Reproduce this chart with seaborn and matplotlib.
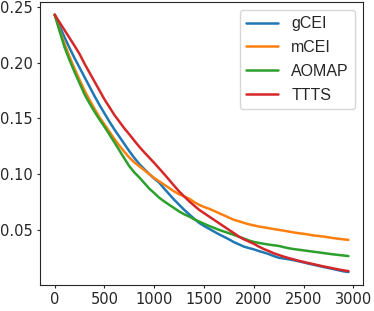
import matplotlib
matplotlib.use("Agg")
import matplotlib.pyplot as plt
import seaborn as sns
import pandas as pd

steps = list(range(0, 3000, 50))

gcei = [0.243, 0.2325, 0.2225, 0.213, 0.204, 0.1955, 0.187, 0.1785, 0.170, 0.162,
        0.1545, 0.147, 0.140, 0.1335, 0.127, 0.1205, 0.1145, 0.109, 0.1045, 0.100,
        0.096, 0.0923, 0.087, 0.082, 0.077, 0.0725, 0.068, 0.064, 0.060, 0.0563,
        0.0535, 0.051, 0.0485, 0.046, 0.0438, 0.0415, 0.039, 0.037, 0.035, 0.0337,
        0.0325, 0.031, 0.0297, 0.0283, 0.0265, 0.025, 0.0243, 0.0236, 0.0228, 0.0218,
        0.0208, 0.0197, 0.0187, 0.0177, 0.0167, 0.0158, 0.0148, 0.0138, 0.0128, 0.0122]
mcei = [0.243, 0.229, 0.2165, 0.205, 0.1945, 0.1845, 0.175, 0.1665, 0.1585, 0.151,
        0.1445, 0.138, 0.1315, 0.1255, 0.120, 0.1148, 0.1105, 0.107, 0.1035, 0.100,
        0.0965, 0.0935, 0.0905, 0.0875, 0.0845, 0.082, 0.080, 0.078, 0.075, 0.0725,
        0.0705, 0.069, 0.067, 0.065, 0.063, 0.061, 0.059, 0.0577, 0.0563, 0.055,
        0.054, 0.053, 0.0523, 0.0515, 0.0507, 0.050, 0.0493, 0.0485, 0.0477, 0.047,
        0.0465, 0.0458, 0.045, 0.0445, 0.044, 0.0433, 0.0426, 0.042, 0.0415, 0.041]
aomap = [0.243, 0.228, 0.2135, 0.202, 0.1915, 0.1815, 0.1715, 0.1635, 0.156, 0.149,
         0.1425, 0.1355, 0.1285, 0.1212, 0.114, 0.107, 0.1015, 0.097, 0.092, 0.087,
         0.083, 0.0788, 0.0755, 0.0725, 0.0695, 0.0665, 0.064, 0.062, 0.0595, 0.0575,
         0.0555, 0.0535, 0.0518, 0.050, 0.0485, 0.047, 0.0455, 0.0438, 0.0422, 0.0405,
         0.0392, 0.0383, 0.0375, 0.0368, 0.0362, 0.0356, 0.0345, 0.0335, 0.0328, 0.0322,
         0.0316, 0.031, 0.0304, 0.0298, 0.0292, 0.0286, 0.028, 0.0275, 0.027, 0.0265]
ttts = [0.243, 0.236, 0.229, 0.222, 0.215, 0.2077, 0.199, 0.191, 0.183, 0.175,
        0.167, 0.160, 0.153, 0.147, 0.141, 0.1356, 0.130, 0.1245, 0.1195, 0.1148,
        0.110, 0.105, 0.100, 0.0948, 0.0895, 0.0845, 0.080, 0.0757, 0.0718, 0.068,
        0.065, 0.062, 0.059, 0.056, 0.053, 0.050, 0.047, 0.044, 0.0415, 0.0395,
        0.0375, 0.035, 0.0328, 0.031, 0.029, 0.0275, 0.026, 0.0247, 0.0235, 0.0223,
        0.0212, 0.0202, 0.0192, 0.0182, 0.0172, 0.0163, 0.0154, 0.0145, 0.0137, 0.013]

methods = ["gCEI", "mCEI", "AOMAP", "TTTS"]
series = [gcei, mcei, aomap, ttts]

rows = []
for name, vals in zip(methods, series):
    for s, v in zip(steps, vals):
        rows.append({"step": s, "value": v, "method": name})
df = pd.DataFrame(rows)

sns.set_style("ticks")
plt.rcParams["font.family"] = ["DejaVu Sans"]

fig = plt.figure(figsize=(3.74, 3.11), dpi=100)
ax = fig.add_axes([0.107, 0.084, 0.864, 0.910])
palette = sns.color_palette("tab10", 4)
sns.lineplot(data=df, x="step", y="value", hue="method", hue_order=methods,
             palette=palette, linewidth=1.8, ax=ax)
ax.set_xlabel("")
ax.set_ylabel("")
ax.set_xticks([0, 500, 1000, 1500, 2000, 2500, 3000])
ax.set_yticks([0.05, 0.10, 0.15, 0.20, 0.25])
ax.tick_params(labelsize=10.5, length=2.5, pad=2.5)
for sp in ax.spines.values():
    sp.set_visible(True)
leg = ax.legend(loc="upper right", prop={"family": "Liberation Sans", "size": 11.5},
                labelspacing=0.55)
fig.savefig("out.png", dpi=100)
